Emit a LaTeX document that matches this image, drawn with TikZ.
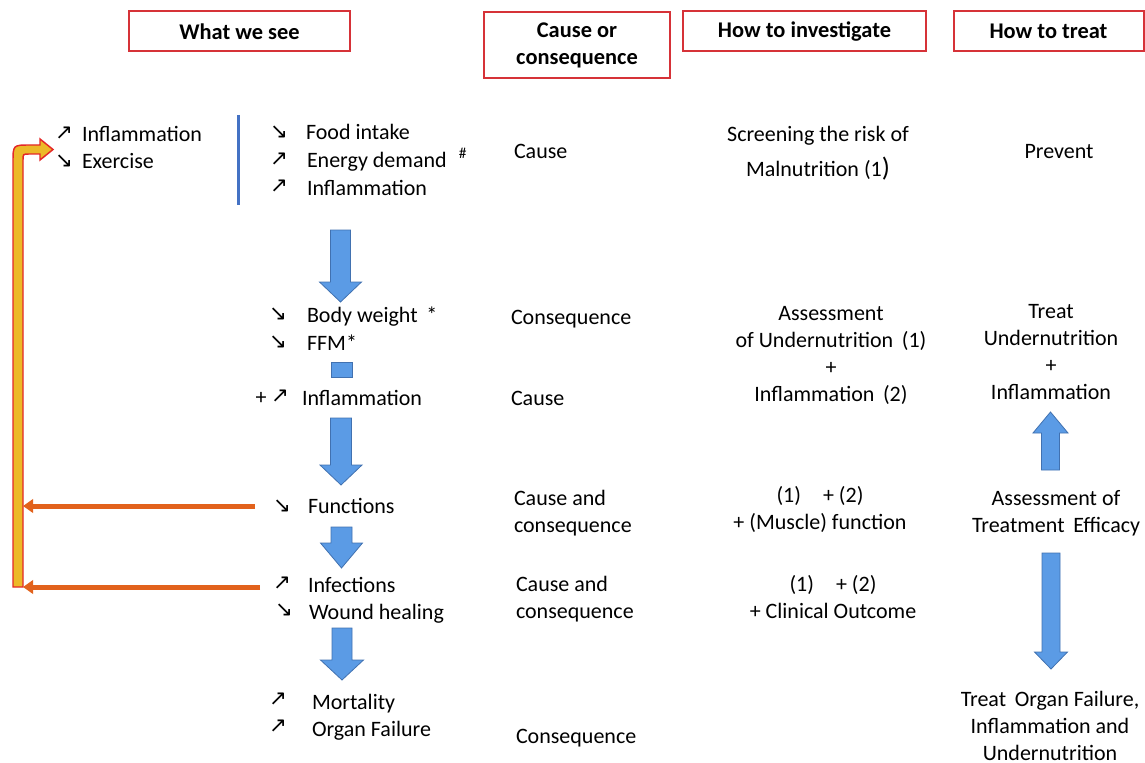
\documentclass[tikz,border=0pt]{standalone}
\usepackage{fontspec}
\setmainfont{Carlito}
\newfontfamily\symf{DejaVu Sans}
\usetikzlibrary{arrows.meta}
\definecolor{hdrred}{RGB}{214,50,56}
\definecolor{blfill}{RGB}{91,155,229}
\definecolor{bldraw}{RGB}{65,113,176}
\definecolor{orng}{RGB}{226,98,28}
\definecolor{gold}{RGB}{236,185,40}
\definecolor{bred}{RGB}{228,40,40}
\definecolor{vlinec}{RGB}{68,114,196}
\newcommand\ua{{\symf\fontsize{16}{16}\selectfont ↗}}
\newcommand\da{{\symf\fontsize{16}{16}\selectfont ↘}}
\newcommand\blockarrow[6]{%
  \draw[blk] ({#1-#5},#2) -- ({#1+#5},#2) -- ({#1+#5},#3) -- ({#1+#6},#3) -- (#1,#4)
    -- ({#1-#6},#3) -- ({#1-#5},#3) -- cycle;}
\begin{document}
\begin{tikzpicture}[x=0.75pt,y=-0.75pt,
  every node/.style={inner sep=0pt, outer sep=0pt},
  txt/.style={font=\fontsize{16.5}{20.25}\selectfont},
  ln/.style={txt, anchor=base west},
  cl/.style={txt, anchor=base},
  blockc/.style={txt, anchor=north, align=center},
  blockl/.style={txt, anchor=north west, align=left},
  sy/.style={anchor=center},
  hdr/.style={draw=hdrred, line width=1.5pt, fill=white,
    font=\fontsize{16.8}{20.25}\selectfont\bfseries, align=center},
  blk/.style={fill=blfill, draw=bldraw, line width=0.6pt},
  fb/.style={draw=orng, line width=3.75pt, -{Triangle[length=7.5pt,width=10pt]}},
]
\useasboundingbox (0,0) rectangle (1145,763);

% headers
\node[hdr, minimum width={221*0.75pt}, minimum height={40*0.75pt}] (h1) at (239.5,31.5) {What we see};
\node[hdr, minimum width={186*0.75pt}, minimum height={66*0.75pt}] (h2) at (577,45) {Cause or\\consequence};
\node[hdr, minimum width={243*0.75pt}, minimum height={40*0.75pt}] (h3) at (804.5,31.5) {How to investigate};
\node[hdr, minimum width={190*0.75pt}, minimum height={40*0.75pt}] (h4) at (1048.5,31.5) {How to treat};

% bent feedback arrow
\draw[fill=gold, draw=bred, line width=1.1pt, line join=miter]
  (13,587) -- (13,162) .. controls (13,145) .. (30,145) -- (40,145) -- (40,139)
  -- (53,149.5) -- (40,160) -- (40,154) -- (29,154) .. controls (23,154) .. (23,160)
  -- (23,587) -- cycle;

% left: inflammation / exercise
\node[sy] (s1) at (64,133) {\ua};
\node[ln] (t1) at (82,141.1) {Inflammation};
\node[sy] (s2) at (64,161) {\da};
\node[ln] (t2) at (82,168.1) {Exercise};

% vertical blue line
\draw[vlinec, line width=2.25pt] (238,115) -- (238,205);

% what we see column
\node[sy] (s3) at (279,132) {\da};
\node[ln] (t3) at (306,139.1) {Food intake};
\node[sy] (s4) at (279,159) {\ua};
\node[ln] (t4) at (307,167.1) {Energy demand\;\;\textsuperscript{\#}};
\node[sy] (s5) at (279,186) {\ua};
\node[ln] (t5) at (307,195.1) {Inflammation};

\node[sy] (s6) at (278,314) {\da};
\node[ln] (t6) at (307,322.1) {Body weight \,*};
\node[sy] (s7) at (278,342) {\da};
\node[ln] (t7) at (307,350.1) {FFM*};

\node[txt] (p8) at (261,398) {+};
\node[sy] (s8) at (280,396) {\ua};
\node[ln] (t8) at (302,405.1) {Inflammation};

\node[sy] (s9) at (282,506) {\da};
\node[ln] (t9) at (308,513.1) {Functions};

\node[sy] (s10) at (282,583) {\ua};
\node[ln] (t10) at (308,592.1) {Infections};
\node[sy] (s11) at (284,610) {\da};
\node[ln] (t11) at (309,619.1) {Wound healing};

\node[sy] (s12) at (278,699) {\ua};
\node[ln] (t12) at (312,709.1) {Mortality};
\node[sy] (s13) at (278,726) {\ua};
\node[ln] (t13) at (312,736.1) {Organ Failure};

% blue block arrows (left)
\blockarrow{340.5}{230}{282}{302}{10}{21}
\draw[blk] (331,362) rectangle (352,377);
\blockarrow{341}{418}{465}{485}{10.5}{21}
\blockarrow{341.5}{527}{543}{568}{10.5}{21}
\blockarrow{342}{628}{660}{680}{10}{21.5}

% orange feedback arrows
\coordinate (f1) at (255,506);
\coordinate (b1) at (23,506);
\draw[fb] (f1) -- (b1);
\coordinate (f2) at (260,587);
\coordinate (b2) at (23,587);
\draw[fb] (f2) -- (b2);

% cause or consequence column
\node[ln] (c1) at (514,158.1) {Cause};
\node[ln] (c2) at (511,324.1) {Consequence};
\node[ln] (c3) at (511,405.1) {Cause};
\node[blockl] (c4) at (514,486.2) {\strut Cause and\\consequence};
\node[blockl] (c5) at (516,572.2) {\strut Cause and\\consequence};
\node[ln] (c6) at (516,743.1) {Consequence};

% how to investigate column
\node[blockc] (i1) at (818,122.2) {\strut Screening the risk of\\[4.5pt]Malnutrition (1{\fontsize{20}{20}\selectfont )}};
\node[blockc] (i2) at (831,301.2) {\strut Assessment\\of Undernutrition \,(1)\\+\\Inflammation \,(2)};
\node[blockc] (i3) at (820,483.2) {\strut (1)\quad+ (2)\\+ (Muscle) function};
\node[blockc] (i4) at (833,572.2) {\strut (1)\quad+ (2)\\+ Clinical Outcome};

% how to treat column
\node[cl] (r1) at (1059,158.1) {Prevent};
\node[blockc] (r2) at (1051,299.2) {\strut Treat\\Undernutrition\\+\\Inflammation};
\blockarrow{1050.5}{470}{433}{412}{9}{17.5}
\node[blockc] (r3) at (1056,486.2) {\strut Assessment of\\Treatment \,Efficacy};
\blockarrow{1051}{553}{652}{669}{9}{16.5}
\node[blockc] (r4) at (1050,687.2) {\strut Treat \,Organ Failure,\\Inflammation and\\Undernutrition};
\end{tikzpicture}
\end{document}
